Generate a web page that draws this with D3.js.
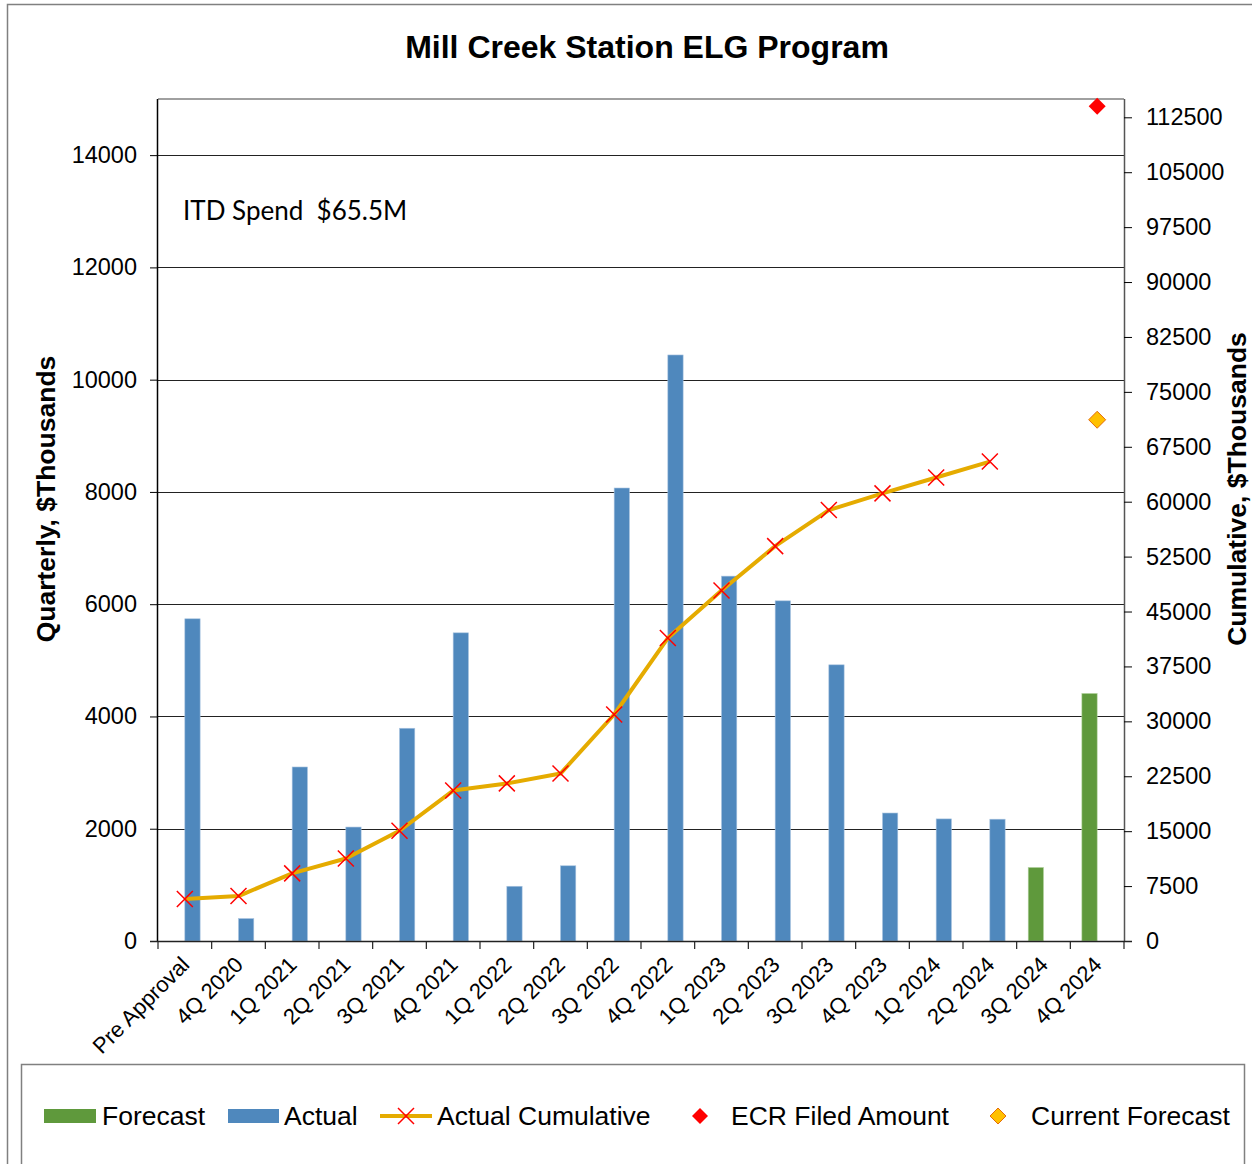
<!DOCTYPE html>
<html>
<head>
<meta charset="utf-8">
<script src="https://cdn.jsdelivr.net/npm/d3@7"></script>
<style>
  html, body { margin: 0; padding: 0; background: #fff; }
  svg { display: block; font-family: "Liberation Sans", Arial, sans-serif; }
</style>
</head>
<body>
<svg id="chart" width="1252" height="1164"></svg>
<script>
const categories = ["Pre Approval","4Q 2020","1Q 2021","2Q 2021","3Q 2021","4Q 2021","1Q 2022","2Q 2022","3Q 2022","4Q 2022","1Q 2023","2Q 2023","3Q 2023","4Q 2023","1Q 2024","2Q 2024","3Q 2024","4Q 2024"];
const actual = [5740, 400, 3100, 2030, 3790, 5490, 975, 1340, 8070, 10440, 6500, 6060, 4920, 2280, 2175, 2170, null, null];
const forecast = [null, null, null, null, null, null, null, null, null, null, null, null, null, null, null, null, 1310, 4410];
const cumulative = [5740, 6140, 9240, 11270, 15060, 20550, 21525, 22865, 30935, 41375, 47875, 53935, 58855, 61135, 63310, 65480];
const ecrFiled = [{cat: "4Q 2024", value: 114000}];
const currentForecast = [{cat: "4Q 2024", value: 71190}];
const leftTicks = [0, 2000, 4000, 6000, 8000, 10000, 12000, 14000];
const rightTicks = [0, 7500, 15000, 22500, 30000, 37500, 45000, 52500, 60000, 67500, 75000, 82500, 90000, 97500, 105000, 112500];

const svg = d3.select("#chart");
const L = 158, R = 1124, T = 99, B = 941;

const x = d3.scaleBand().domain(categories).range([L, R]).padding(0);
const yL = d3.scaleLinear().domain([0, 15000]).range([B, T]);
const yR = d3.scaleLinear().domain([0, 115000]).range([B, T]);
const bw = x.bandwidth() * 0.285;
const cx = c => x(c) + x.bandwidth() / 2;

// outer border
svg.append("path").attr("d", "M7.5,1164 L7.5,4.5 L1252,4.5").attr("fill", "none").attr("stroke", "#808080").attr("stroke-width", 1.5);

// title
svg.append("text").attr("x", 647).attr("y", 58).attr("text-anchor", "middle")
  .attr("font-size", 32).attr("font-weight", "bold").text("Mill Creek Station ELG Program");

// gridlines
svg.append("g").selectAll("line").data(leftTicks.filter(d => d > 0)).join("line")
  .attr("x1", L).attr("x2", R).attr("y1", d => Math.round(yL(d)) + 0.5).attr("y2", d => Math.round(yL(d)) + 0.5)
  .attr("stroke", "#222").attr("stroke-width", 1);

// top border of plot
svg.append("line").attr("x1", L).attr("x2", R).attr("y1", T).attr("y2", T).attr("stroke", "#808080").attr("stroke-width", 1.5);

// bars
svg.append("g").selectAll("rect").data(categories.map((c, i) => ({c, v: actual[i]})).filter(d => d.v != null)).join("rect")
  .attr("x", d => cx(d.c)).attr("width", bw)
  .attr("y", d => yL(d.v)).attr("height", d => B - yL(d.v))
  .attr("fill", "#4F88BD").attr("stroke", "#A9C4E0").attr("stroke-width", 0.6);
svg.append("g").selectAll("rect").data(categories.map((c, i) => ({c, v: forecast[i]})).filter(d => d.v != null)).join("rect")
  .attr("x", d => cx(d.c) - bw).attr("width", bw)
  .attr("y", d => yL(d.v)).attr("height", d => B - yL(d.v))
  .attr("fill", "#5F993C").attr("stroke", "#B4D3A0").attr("stroke-width", 0.6);

// axes
const leftAxis = d3.axisLeft(yL).tickValues(leftTicks).tickSize(8).tickPadding(13).tickFormat(d3.format("d"));
const gl = svg.append("g").attr("transform", `translate(${L},0)`).call(leftAxis);
gl.select(".domain").attr("d", `M-0.5,${B}V${T}`).attr("stroke", "#000").attr("stroke-width", 1.5);
gl.selectAll(".tick line").attr("stroke", "#000");
gl.selectAll(".tick text").attr("font-size", 23.5).attr("fill", "#000").attr("font-family", "Liberation Sans, Arial, sans-serif");

const rightAxis = d3.axisRight(yR).tickValues(rightTicks).tickSize(8).tickPadding(14).tickFormat(d3.format("d"));
const gr = svg.append("g").attr("transform", `translate(${R},0)`).call(rightAxis);
gr.select(".domain").attr("d", `M0.5,${B}V${T}`).attr("stroke", "#555").attr("stroke-width", 1.5);
gr.selectAll(".tick line").attr("stroke", "#000");
gr.selectAll(".tick text").attr("font-size", 23.5).attr("fill", "#000").attr("font-family", "Liberation Sans, Arial, sans-serif");

// bottom axis
const gb = svg.append("g");
gb.append("line").attr("x1", L - 8).attr("x2", R + 8).attr("y1", B + 0.5).attr("y2", B + 0.5).attr("stroke", "#222").attr("stroke-width", 1.5);
const bounds = categories.map(c => x(c)).concat([R]);
gb.selectAll("line.t").data(bounds).join("line").attr("class", "t")
  .attr("x1", d => d).attr("x2", d => d).attr("y1", B).attr("y2", B + 8).attr("stroke", "#222").attr("stroke-width", 1.2);
gb.selectAll("text").data(categories).join("text")
  .attr("transform", d => `translate(${cx(d) + 6},${B + 25}) rotate(-45)`)
  .attr("text-anchor", "end").attr("font-size", 22).text(d => d);

// cumulative line
const line = d3.line().x((d, i) => cx(categories[i])).y(d => yR(d));
svg.append("path").datum(cumulative).attr("d", line).attr("fill", "none")
  .attr("stroke", "#E5AB00").attr("stroke-width", 4).attr("stroke-linejoin", "round");
const s = 8;
svg.append("g").selectAll("path").data(cumulative).join("path")
  .attr("d", (d, i) => { const px = cx(categories[i]), py = yR(d); return `M${px-s},${py-s}L${px+s},${py+s}M${px-s},${py+s}L${px+s},${py-s}`; })
  .attr("stroke", "#FF0000").attr("stroke-width", 1.5).attr("fill", "none");

// diamonds
const diamond = (px, py, r) => `M${px},${py-r}L${px+r},${py}L${px},${py+r}L${px-r},${py}Z`;
svg.append("g").selectAll("path").data(ecrFiled).join("path")
  .attr("d", d => diamond(cx(d.cat), yR(d.value), 8.5)).attr("fill", "#FF0000");
svg.append("g").selectAll("path").data(currentForecast).join("path")
  .attr("d", d => diamond(cx(d.cat), yR(d.value), 8.5)).attr("fill", "#FFC000").attr("stroke", "#E46C0A").attr("stroke-width", 1);

// ITD annotation
svg.append("text").attr("x", 183).attr("y", 220).attr("font-family", "Lato, 'Open Sans', sans-serif")
  .attr("font-size", 26).attr("xml:space", "preserve").style("white-space", "pre").text("ITD Spend  $65.5M");

// axis titles
svg.append("text").attr("transform", "translate(55,499) rotate(-90)").attr("text-anchor", "middle")
  .attr("font-size", 26.5).attr("font-weight", "bold").text("Quarterly, $Thousands");
svg.append("text").attr("transform", "translate(1246,489) rotate(-90)").attr("text-anchor", "middle")
  .attr("font-size", 26.5).attr("font-weight", "bold").text("Cumulative, $Thousands");

// legend
svg.append("path").attr("d", "M21.5,1164 L21.5,1064.5 L1244.5,1064.5 L1244.5,1164").attr("fill", "none").attr("stroke", "#808080").attr("stroke-width", 1.5);
const ly = 1116;
const fs = 26.5;
const lg = svg.append("g");
lg.append("rect").attr("x", 44).attr("y", ly - 7).attr("width", 52).attr("height", 14).attr("fill", "#5F993C");
lg.append("text").attr("x", 102).attr("y", ly + 9).attr("font-size", fs).text("Forecast");
lg.append("rect").attr("x", 228).attr("y", ly - 7).attr("width", 51).attr("height", 14).attr("fill", "#4F88BD");
lg.append("text").attr("x", 284).attr("y", ly + 9).attr("font-size", fs).text("Actual");
lg.append("line").attr("x1", 380).attr("x2", 432).attr("y1", ly).attr("y2", ly).attr("stroke", "#E5AB00").attr("stroke-width", 4);
lg.append("path").attr("d", `M${406-8},${ly-8}L${406+8},${ly+8}M${406-8},${ly+8}L${406+8},${ly-8}`).attr("stroke", "#FF0000").attr("stroke-width", 1.5);
lg.append("text").attr("x", 437).attr("y", ly + 9).attr("font-size", fs).text("Actual Cumulative");
lg.append("path").attr("d", diamond(700, ly, 8)).attr("fill", "#FF0000");
lg.append("text").attr("x", 731).attr("y", ly + 9).attr("font-size", fs).text("ECR Filed Amount");
lg.append("path").attr("d", diamond(998, ly, 8)).attr("fill", "#FFC000").attr("stroke", "#E46C0A").attr("stroke-width", 1);
lg.append("text").attr("x", 1031).attr("y", ly + 9).attr("font-size", fs).text("Current Forecast");
</script>
</body>
</html>
